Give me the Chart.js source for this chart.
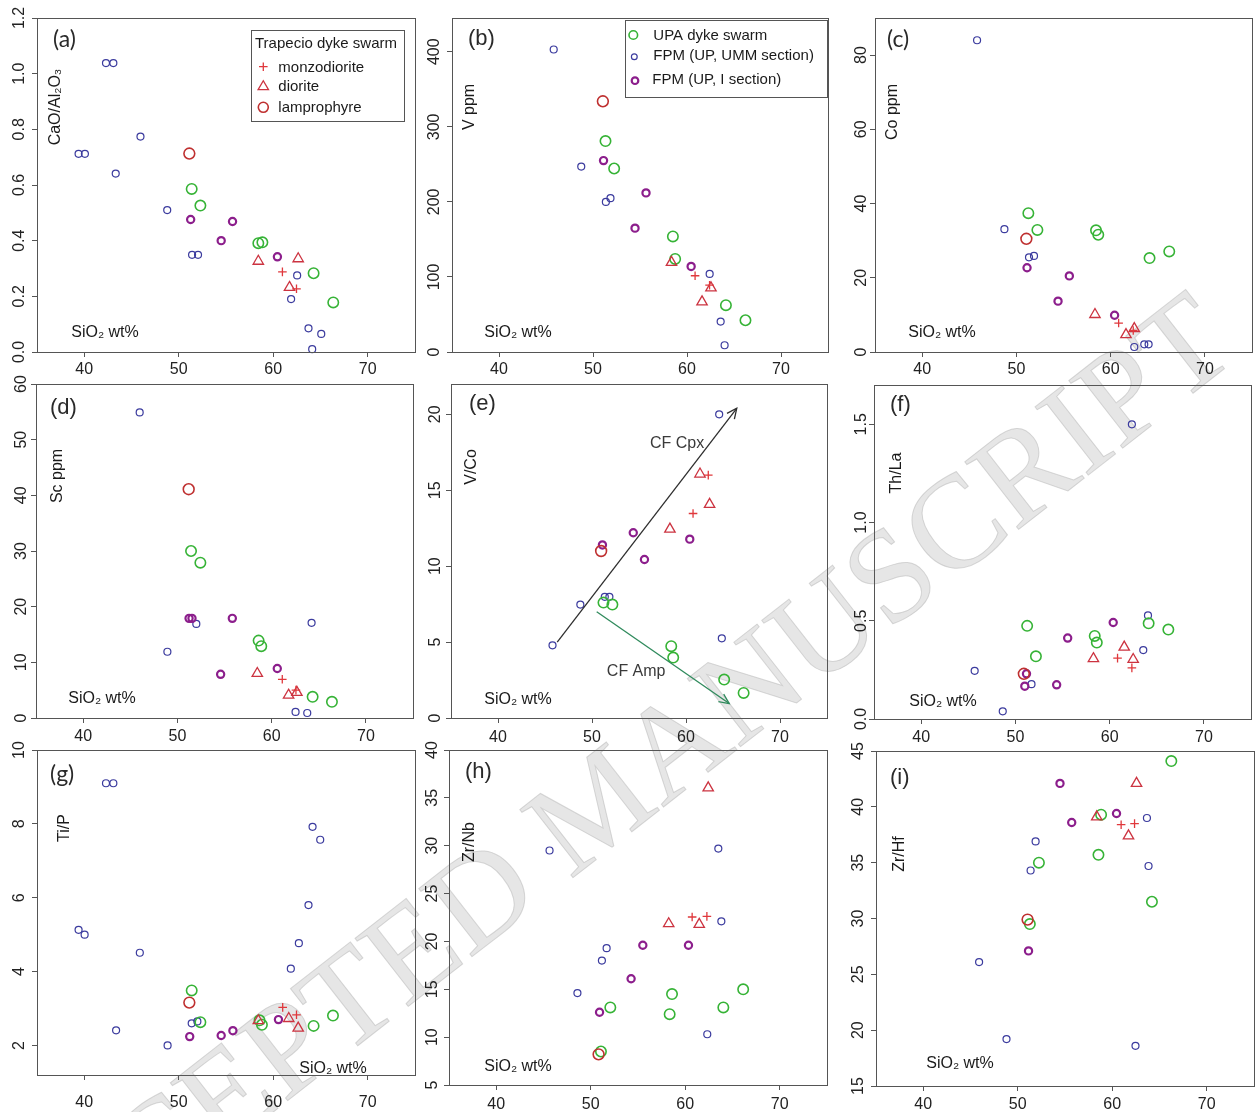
<!DOCTYPE html>
<html><head><meta charset="utf-8">
<script src="https://cdn.jsdelivr.net/npm/chart.js@4.4.1/dist/chart.umd.min.js"></script>
<style>
html,body{margin:0;padding:0;background:#fff;width:1258px;height:1112px;overflow:hidden;position:relative;}
canvas{position:absolute;}
</style></head><body>
<canvas id="wm" width="1258" height="1112" style="left:0;top:0;width:1258px;height:1112px"></canvas>
<script>
// ---------------- DATA ----------------
const SERIES_NAMES = ['UPA dyke swarm','FPM (UP, UMM section)','FPM (UP, I section)','monzodiorite','diorite','lamprophyre'];
const LEGEND_TITLE = 'Trapecio dyke swarm';
const PANEL_LETTERS = ['(a)','(b)','(c)','(d)','(e)','(f)','(g)','(h)','(i)'];
const Y_TITLES = ['CaO/Al₂O₃','V ppm','Co ppm','Sc ppm','V/Co','Th/La','Ti/P','Zr/Nb','Zr/Hf'];
const X_TITLE = 'SiO₂ wt%';
const X_TICKS = [40,50,60,70];

const a_yticks = [0,0.2,0.4,0.6,0.8,1.0,1.2];
const b_yticks = [0,100,200,300,400];
const c_yticks = [0,20,40,60,80];
const d_yticks = [0,10,20,30,40,50,60];
const e_yticks = [0,5,10,15,20];
const f_yticks = [0,0.5,1.0,1.5];
const g_yticks = [2,4,6,8,10];
const h_yticks = [5,10,15,20,25,30,35,40];
const i_yticks = [15,20,25,30,35,40,45];

// (a) CaO/Al2O3
const a_umm = [[39.4,0.712],[40.07,0.712],[42.3,1.038],[43.08,1.038],[43.33,0.641],[45.95,0.774],[48.78,0.51],[51.41,0.349],[52.04,0.349],[61.89,0.19],[62.53,0.275],[63.73,0.085],[64.12,0.01],[65.08,0.065]];
const a_upa = [[51.37,0.586],[52.29,0.526],[58.42,0.391],[58.85,0.394],[64.27,0.283],[66.35,0.178]];
const a_isec = [[51.26,0.476],[54.49,0.40],[55.69,0.469],[60.44,0.342]];
const a_monzo = [[60.97,0.288],[62.46,0.227]];
const a_dior = [[58.42,0.326],[61.72,0.232],[62.64,0.335]];
const a_lamp = [[51.12,0.713]];
// (b) V ppm
const b_umm = [[45.82,403],[48.75,247],[51.37,200],[51.86,205],[62.41,104],[63.58,40.5],[64.0,9]];
const b_upa = [[51.33,281],[52.25,244.5],[58.5,154],[58.74,124],[64.14,62.4],[66.22,42.3]];
const b_isec = [[51.12,255],[54.47,165],[55.64,212],[60.44,114]];
const b_monzo = [[60.86,101.6],[62.4,89]];
const b_dior = [[58.35,119.4],[61.6,66.8],[62.55,85.5]];
const b_lamp = [[51.05,334]];
// (c) Co ppm
const c_umm = [[45.83,84],[48.73,33.1],[51.34,25.5],[51.87,25.9],[62.51,1.35],[63.57,2.07],[64.03,2.07]];
const c_upa = [[51.27,37.4],[52.23,32.9],[58.45,32.8],[58.69,31.6],[64.13,25.3],[66.22,27.1]];
const c_isec = [[51.13,22.7],[54.42,13.7],[55.62,20.5],[60.42,9.9]];
const c_monzo = [[60.85,7.8],[62.4,5.8]];
const c_dior = [[58.34,10.1],[61.63,4.7],[62.51,6.3]];
const c_lamp = [[51.06,30.5]];
// (d) Sc ppm
const d_umm = [[46.0,54.9],[48.94,11.9],[52.01,16.9],[62.54,1.1],[63.78,0.9],[64.24,17.1]];
const d_upa = [[51.45,30.0],[52.44,27.9],[58.62,13.9],[58.9,12.9],[64.35,3.8],[66.4,2.9]];
const d_isec = [[51.24,17.9],[51.55,17.9],[54.59,7.85],[55.83,17.9],[60.6,8.9]];
const d_monzo = [[61.13,6.95],[62.58,5.0]];
const d_dior = [[58.48,8.0],[61.8,4.1],[62.68,4.6]];
const d_lamp = [[51.2,41.1]];
// (e) V/Co
const e_umm = [[45.8,4.79],[48.76,7.47],[51.36,7.98],[51.85,7.98],[63.53,20.0],[63.81,5.25]];
const e_upa = [[51.22,7.6],[52.17,7.47],[58.43,4.73],[58.64,3.98],[64.06,2.53],[66.13,1.65]];
const e_isec = [[51.11,11.4],[54.39,12.2],[55.58,10.44],[60.4,11.78]];
const e_monzo = [[60.75,13.47],[62.37,16.0]];
const e_dior = [[58.29,12.44],[61.49,16.07],[62.51,14.07]];
const e_lamp = [[50.97,11.0]];
const e_arrow_cpx = [[46.3,5.0],[65.4,20.4]];
const e_arrow_amp = [[50.5,7.0],[64.6,0.95]];
const ARROW_LABELS = ['CF Cpx','CF Amp'];
const ARROW_LABEL_AT = [[59.05,18.05],[54.7,3.03]];
// (f) Th/La
const f_umm = [[45.68,0.245],[48.66,0.039],[51.71,0.177],[62.36,1.5],[63.57,0.351],[64.07,0.527]];
const f_upa = [[51.25,0.474],[52.18,0.319],[58.42,0.423],[58.64,0.389],[64.14,0.487],[66.23,0.455]];
const f_isec = [[51.0,0.167],[51.18,0.23],[54.38,0.174],[55.55,0.412],[60.38,0.491]];
const f_monzo = [[60.84,0.31],[62.36,0.26]];
const f_dior = [[58.28,0.307],[61.55,0.366],[62.5,0.303]];
const f_lamp = [[50.9,0.23]];
// (g) Ti/P
const g_umm = [[39.4,5.13],[40.04,5.0],[42.3,9.1],[43.08,9.1],[43.37,2.41],[45.88,4.51],[48.82,2.0],[51.37,2.6],[51.97,2.65],[61.86,4.08],[62.71,4.77],[63.73,5.8],[64.16,7.92],[64.97,7.57]];
const g_upa = [[51.37,3.49],[52.29,2.63],[58.55,2.68],[58.8,2.56],[64.27,2.53],[66.32,2.81]];
const g_isec = [[51.16,2.24],[54.49,2.27],[55.73,2.4],[60.55,2.7]];
const g_monzo = [[61.0,3.03],[62.46,2.83]];
const g_dior = [[58.42,2.67],[61.64,2.73],[62.64,2.47]];
const g_lamp = [[51.12,3.16]];
// (h) Zr/Nb
const h_umm = [[45.64,29.5],[48.59,14.6],[51.18,18.0],[51.68,19.3],[62.33,10.3],[63.5,29.7],[63.82,22.1]];
const h_upa = [[51.08,8.5],[52.07,13.1],[58.35,12.4],[58.6,14.5],[64.03,13.1],[66.13,15.0]];
const h_isec = [[50.93,12.6],[54.27,16.1],[55.51,19.6],[60.34,19.6]];
const h_monzo = [[60.73,22.55],[62.29,22.62]];
const h_dior = [[58.25,21.85],[61.48,21.78],[62.43,36.05]];
const h_lamp = [[50.83,8.2]];
// (i) Zr/Hf
const i_umm = [[45.91,26.1],[48.81,19.2],[51.36,34.3],[51.89,36.9],[62.46,18.6],[63.67,39.0],[63.84,34.7]];
const i_upa = [[51.28,29.5],[52.24,35.0],[58.54,35.7],[58.82,39.3],[64.2,31.5],[66.25,44.1]];
const i_isec = [[51.14,27.1],[54.47,42.1],[55.71,38.6],[60.45,39.4]];
const i_monzo = [[60.94,38.4],[62.36,38.5]];
const i_dior = [[58.36,39.1],[61.72,37.4],[62.57,42.1]];
const i_lamp = [[51.04,29.9]];

// ---------------- STYLE / LAYOUT ----------------
const SANS = '"Liberation Sans", Arial, Helvetica, sans-serif';
const FRAME = '#555';
const TXT = '#1a1a1a';
const STYLE = {
  upa:  {pointStyle:'circle',   radius:5.2, color:'#36b336', lw:1.6, lr:4.3},
  umm:  {pointStyle:'circle',   radius:3.5, color:'#3b3b9e', lw:1.2, lr:2.9},
  isec: {pointStyle:'circle',   radius:3.6, color:'#8c1e8c', lw:2.2, lr:3.3},
  monzo:{pointStyle:'cross',    radius:4.3, color:'#e0383c', lw:1.3, lr:4.3},
  dior: {pointStyle:'triangle', radius:6.0, color:'#cc3340', lw:1.3, lr:6.0},
  lamp: {pointStyle:'circle',   radius:5.4, color:'#bf3030', lw:1.6, lr:5.0}
};
const KEYS = ['upa','umm','isec','monzo','dior','lamp'];
const DRAW_ORDER = ['monzo','dior','lamp','upa','isec','umm']; // first = on top

const PANEL_DATA = {
  a:{upa:a_upa,umm:a_umm,isec:a_isec,monzo:a_monzo,dior:a_dior,lamp:a_lamp},
  b:{upa:b_upa,umm:b_umm,isec:b_isec,monzo:b_monzo,dior:b_dior,lamp:b_lamp},
  c:{upa:c_upa,umm:c_umm,isec:c_isec,monzo:c_monzo,dior:c_dior,lamp:c_lamp},
  d:{upa:d_upa,umm:d_umm,isec:d_isec,monzo:d_monzo,dior:d_dior,lamp:d_lamp},
  e:{upa:e_upa,umm:e_umm,isec:e_isec,monzo:e_monzo,dior:e_dior,lamp:e_lamp},
  f:{upa:f_upa,umm:f_umm,isec:f_isec,monzo:f_monzo,dior:f_dior,lamp:f_lamp},
  g:{upa:g_upa,umm:g_umm,isec:g_isec,monzo:g_monzo,dior:g_dior,lamp:g_lamp},
  h:{upa:h_upa,umm:h_umm,isec:h_isec,monzo:h_monzo,dior:h_dior,lamp:h_lamp},
  i:{upa:i_upa,umm:i_umm,isec:i_isec,monzo:i_monzo,dior:i_dior,lamp:i_lamp}
};

// frame rectangles (page px) and decoration offsets (relative to plot frame)
const PANELS = [
 {id:'a', l:37, t:18, r:415, b:352, ymin:0, ymax:1.2, yt:a_yticks, dec:1, ypad:1,   xpad:3,  lab:[16,22], lf:'lato', yti:[19,89], xti:[68,315]},
 {id:'b', l:452,t:18, r:828, b:352, ymin:0, ymax:445, yt:b_yticks, dec:0, ypad:-1.3,xpad:3,  lab:[16,21], lf:'sans', yti:[18,89], xti:[66,315]},
 {id:'c', l:875,t:18, r:1252,b:352, ymin:0, ymax:90,  yt:c_yticks, dec:0, ypad:-0.6,xpad:3,  lab:[12,22], lf:'lato', yti:[18,94], xti:[67,315]},
 {id:'d', l:36, t:384,r:413, b:718, ymin:0, ymax:60,  yt:d_yticks, dec:0, ypad:0.4, xpad:4,  lab:[14,24], lf:'sans', yti:[22,92], xti:[66,315]},
 {id:'e', l:451,t:384,r:827, b:718, ymin:0, ymax:22,  yt:e_yticks, dec:0, ypad:1.8, xpad:5,  lab:[18,20], lf:'sans', yti:[21,83], xti:[67,316]},
 {id:'f', l:874,t:385,r:1251,b:719, ymin:0, ymax:1.7, yt:f_yticks, dec:1, ypad:-3.5,xpad:4,  lab:[16,20], lf:'sans', yti:[23,88], xti:[69,317]},
 {id:'g', l:37, t:750,r:415, b:1075,ymin:1.2,ymax:10, yt:g_yticks, dec:0, ypad:3.4, xpad:13, lab:[13,25], lf:'lato', yti:[28,78], xti:[296,319]},
 {id:'h', l:449,t:750,r:827, b:1085,ymin:5, ymax:40,  yt:h_yticks, dec:0, ypad:2.1, xpad:4.5,lab:[16,22], lf:'sans', yti:[21,92], xti:[69,317]},
 {id:'i', l:876,t:751,r:1254,b:1086,ymin:15,ymax:45,  yt:i_yticks, dec:0, ypad:3.5, xpad:4,  lab:[14,27], lf:'sans', yti:[24,103],xti:[84,313]}
];
const PADL=45, PADT=14, PADR=14, PADB=40;

// ---------------- WATERMARK ----------------
(function(){
  const c = document.getElementById('wm').getContext('2d');
  c.save();
  c.translate(570, 880);
  c.rotate(-38*Math.PI/180);
  c.font = '132px "Liberation Serif", "Times New Roman", serif';
  c.textBaseline = 'alphabetic';
  c.fillStyle = 'rgba(222,222,222,0.75)';
  c.strokeStyle = 'rgba(185,185,185,0.55)';
  c.lineWidth = 1;
  c.textAlign = 'left';
  c.fillText('MANUSCRIPT', 0, 0); c.strokeText('MANUSCRIPT', 0, 0);
  c.textAlign = 'right';
  c.fillText('ACCEPTED ', 0, 0); c.strokeText('ACCEPTED ', 0, 0);
  c.restore();
})();

// ---------------- HELPERS ----------------
function mark(ctx, key, x, y, legend){
  const s = STYLE[key];
  ctx.save();
  ctx.strokeStyle = s.color; ctx.fillStyle = 'rgba(0,0,0,0)'; ctx.lineWidth = s.lw;
  const opts = {pointStyle:s.pointStyle, radius: legend ? s.lr : s.radius, rotation:0, borderWidth:s.lw};
  if (Chart.helpers && Chart.helpers.drawPoint) { Chart.helpers.drawPoint(ctx, opts, x, y); }
  ctx.restore();
}

function decoPlugin(p, idx){
  return {
    id:'deco'+p.id,
    afterDatasetsDraw(chart){
      if (p.id !== 'e') return;
      const ctx = chart.ctx;
      [0,1].forEach(k=>{
        const ds = chart.data.datasets.findIndex(d=>d.arrowIndex===k);
        const meta = chart.getDatasetMeta(ds);
        const p0 = meta.data[0], p1 = meta.data[1];
        const ang = Math.atan2(p1.y-p0.y, p1.x-p0.x);
        const L = 11, A = 25*Math.PI/180;
        ctx.save();
        ctx.strokeStyle = chart.data.datasets[ds].borderColor; ctx.lineWidth = 1.3;
        ctx.beginPath();
        ctx.moveTo(p1.x - L*Math.cos(ang-A), p1.y - L*Math.sin(ang-A));
        ctx.lineTo(p1.x, p1.y);
        ctx.lineTo(p1.x - L*Math.cos(ang+A), p1.y - L*Math.sin(ang+A));
        ctx.stroke();
        ctx.fillStyle = '#3a3a3a';
        ctx.font = '16px '+SANS; ctx.textAlign='center'; ctx.textBaseline='middle';
        ctx.fillText(ARROW_LABELS[k], chart.scales.x.getPixelForValue(ARROW_LABEL_AT[k][0]), chart.scales.y.getPixelForValue(ARROW_LABEL_AT[k][1]));
        ctx.restore();
      });
    },
    afterDraw(chart){
      const ctx = chart.ctx, ca = chart.chartArea;
      const L = Math.round(ca.left), T = Math.round(ca.top);
      ctx.save();
      ctx.strokeStyle = FRAME; ctx.lineWidth = 1;
      ctx.strokeRect(L+0.5, T+0.5, Math.round(ca.right-ca.left), Math.round(ca.bottom-ca.top));
      ctx.fillStyle = '#2a2a2a';
      ctx.textBaseline = 'middle'; ctx.textAlign = 'left';
      ctx.font = p.lf==='lato' ? '23px Lato, "Open Sans", sans-serif' : '22px '+SANS;
      ctx.fillText(PANEL_LETTERS[idx], L+p.lab[0], T+p.lab[1]);
      ctx.fillStyle = TXT;
      ctx.font = '16px '+SANS;
      ctx.textAlign = 'center';
      ctx.fillText(X_TITLE, L+p.xti[0], T+p.xti[1]);
      ctx.save();
      ctx.translate(L+p.yti[0], T+p.yti[1]);
      ctx.rotate(-Math.PI/2);
      ctx.fillText(Y_TITLES[idx], 0, 0);
      ctx.restore();
      if (p.id==='a'){
        const bx=L+213.7, by=T+12, bw=152.6, bh=90.7;
        ctx.fillStyle='#fff'; ctx.fillRect(bx,by,bw,bh);
        ctx.strokeStyle=FRAME; ctx.strokeRect(Math.round(bx)+0.5, Math.round(by)+0.5, Math.round(bw), Math.round(bh));
        ctx.fillStyle=TXT; ctx.font='15px '+SANS; ctx.textAlign='left'; ctx.textBaseline='middle';
        ctx.fillText(LEGEND_TITLE, L+218, T+25.5);
        const ks=['monzo','dior','lamp'], sy=[48.7,68.7,89.3], ty=[50.3,69.3,90.3];
        ks.forEach((k,j)=>{ mark(ctx,k,L+226.3,T+sy[j],true); ctx.fillStyle=TXT; ctx.fillText(SERIES_NAMES[KEYS.indexOf(k)], L+241.3, T+ty[j]); });
      }
      if (p.id==='b'){
        const bx=L+173, by=T+2, bw=202.3, bh=77.3;
        ctx.fillStyle='#fff'; ctx.fillRect(bx,by,bw,bh);
        ctx.strokeStyle=FRAME; ctx.strokeRect(Math.round(bx)+0.5, Math.round(by)+0.5, Math.round(bw), Math.round(bh));
        ctx.fillStyle=TXT; ctx.font='15px '+SANS; ctx.textAlign='left'; ctx.textBaseline='middle';
        const ks=['upa','umm','isec'], sx=[181.3,182.3,183], sy=[17,38.7,62.7], tx=[201.3,201.3,200.3], ty=[18,37.5,62];
        ks.forEach((k,j)=>{ mark(ctx,k,L+sx[j],T+sy[j],true); ctx.fillStyle=TXT; ctx.fillText(SERIES_NAMES[KEYS.indexOf(k)], L+tx[j], T+ty[j]); });
      }
      ctx.restore();
    }
  };
}

// ---------------- CHARTS ----------------
PANELS.forEach((p, idx)=>{
  const w = p.r - p.l, h = p.b - p.t;
  const cv = document.createElement('canvas');
  const W = w + PADL + PADR, H = h + PADT + PADB;
  cv.width = W; cv.height = H;
  cv.style.width = W+'px'; cv.style.height = H+'px';
  cv.style.left = (p.l - PADL)+'px'; cv.style.top = (p.t - PADT)+'px';
  document.body.appendChild(cv);

  const pd = PANEL_DATA[p.id];
  const datasets = DRAW_ORDER.map(k=>{
    const s = STYLE[k];
    return {
      label: SERIES_NAMES[KEYS.indexOf(k)],
      data: pd[k].map(([x,y])=>({x,y})),
      pointStyle: s.pointStyle, pointRadius: s.radius, pointHoverRadius: s.radius,
      pointBorderColor: s.color, pointBackgroundColor: 'rgba(0,0,0,0)',
      borderColor: s.color, backgroundColor: 'rgba(0,0,0,0)',
      pointBorderWidth: s.lw, showLine:false, clip:false
    };
  });
  if (p.id==='e'){
    datasets.push({type:'line', arrowIndex:0, data:e_arrow_cpx.map(([x,y])=>({x,y})), borderColor:'#2e2e2e', borderWidth:1.3, pointRadius:0, showLine:true, fill:false, clip:false, order:-1});
    datasets.push({type:'line', arrowIndex:1, data:e_arrow_amp.map(([x,y])=>({x,y})), borderColor:'#2f8a5c', borderWidth:1.3, pointRadius:0, showLine:true, fill:false, clip:false, order:-1});
  }

  const tickFont = {family: SANS, size: 16};
  new Chart(cv, {
    type:'scatter',
    data:{datasets},
    options:{
      responsive:false, animation:false, devicePixelRatio:1, events:[],
      layout:{padding:{left:0, top:PADT, right:PADR, bottom:0}},
      plugins:{legend:{display:false}, tooltip:{enabled:false}},
      scales:{
        x:{type:'linear', position:'bottom', min:35, max:75,
           afterBuildTicks:(s)=>{ s.ticks = X_TICKS.map(v=>({value:v})); },
           afterFit:(s)=>{ s.height = PADB; },
           ticks:{font:tickFont, color:'#222', padding:p.xpad, maxRotation:0, minRotation:0, autoSkip:false, callback:(v)=>String(v)},
           grid:{display:true, drawOnChartArea:false, drawTicks:true, tickLength:5, tickColor:FRAME, tickWidth:1},
           border:{display:true, color:FRAME, width:1}},
        y:{type:'linear', position:'left', min:p.ymin, max:p.ymax,
           afterBuildTicks:(s)=>{ s.ticks = p.yt.map(v=>({value:v})); },
           afterFit:(s)=>{ s.width = PADL; },
           ticks:{font:tickFont, color:'#222', padding:p.ypad, minRotation:90, maxRotation:90, crossAlign:'center', autoSkip:false,
                  callback:(v)=> p.dec ? Number(v).toFixed(p.dec) : String(v)},
           grid:{display:true, drawOnChartArea:false, drawTicks:true, tickLength:5, tickColor:FRAME, tickWidth:1},
           border:{display:true, color:FRAME, width:1}}
      }
    },
    plugins:[decoPlugin(p, idx)]
  });
});
</script>
</body></html>
